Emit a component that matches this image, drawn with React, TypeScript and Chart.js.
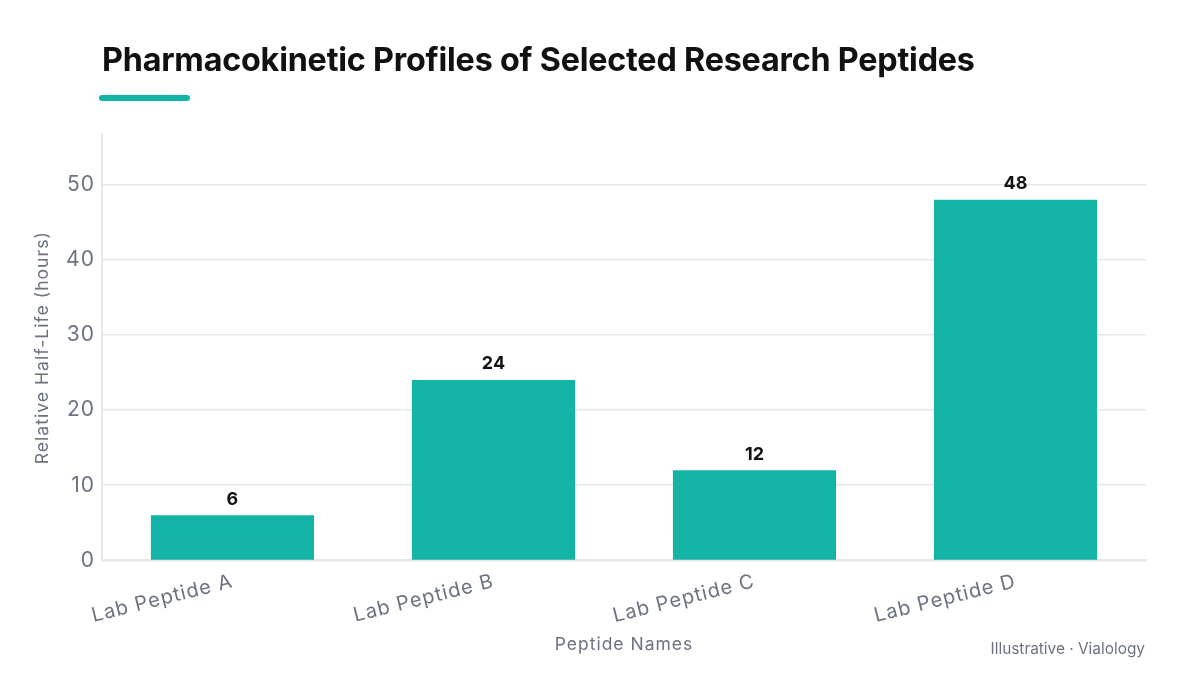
import React, { useEffect, useRef } from "react";
import { Chart, registerables } from "chart.js";

Chart.register(...registerables);

const categories = ["Lab Peptide A", "Lab Peptide B", "Lab Peptide C", "Lab Peptide D"];
const halfLifeHours = [6, 24, 12, 48];
const yMax = 56.6;
const yStep = 10;

const TEAL = "#13b3a5";
const GRAY = "#6b7280";
const FONT = "Inter, 'DejaVu Sans', sans-serif";

// Slightly open tracking for the axis text drawn on the canvas.
const wideText = {
  id: "wideText",
  beforeUpdate(chart: any) {
    chart.ctx.letterSpacing = "1px";
  },
};

const valueLabels = {
  id: "valueLabels",
  afterDatasetsDraw(chart: any) {
    const ctx = chart.ctx;
    const meta = chart.getDatasetMeta(0);
    ctx.save();
    ctx.letterSpacing = "0px";
    ctx.font = `700 18px ${FONT}`;
    ctx.fillStyle = "#111111";
    ctx.textAlign = "center";
    ctx.textBaseline = "bottom";
    meta.data.forEach((bar: any, i: number) => {
      ctx.fillText(String(chart.data.datasets[0].data[i]), bar.x, bar.y - 7);
    });
    ctx.restore();
  },
};

export default function App() {
  const ref = useRef<HTMLCanvasElement | null>(null);

  useEffect(() => {
    if (!ref.current) return;
    const chart = new Chart(ref.current, {
      type: "bar",
      data: {
        labels: categories,
        datasets: [
          {
            data: halfLifeHours,
            backgroundColor: TEAL,
            borderWidth: 0,
            barPercentage: 0.625,
            categoryPercentage: 1,
          },
        ],
      },
      options: {
        animation: false,
        responsive: false,
        maintainAspectRatio: false,
        layout: { padding: { top: 135, left: 28, right: 54, bottom: 20 } },
        plugins: {
          legend: { display: false },
          tooltip: { enabled: false },
        },
        scales: {
          x: {
            grid: { display: false, drawTicks: false },
            border: { color: "#e5e7eb", width: 2 },
            ticks: {
              color: GRAY,
              font: { family: FONT, size: 20, lineHeight: 1.0 },
              minRotation: 14,
              maxRotation: 14,
              padding: 11,
            },
            title: {
              display: true,
              text: "Peptide Names",
              color: GRAY,
              font: { family: FONT, size: 17.5 },
              padding: { top: -3, bottom: 0 },
            },
          },
          y: {
            min: 0,
            max: yMax,
            afterBuildTicks: (axis: any) => {
              axis.ticks = axis.ticks.filter((t: any) => t.value % yStep === 0);
            },
            ticks: {
              stepSize: yStep,
              color: GRAY,
              font: { family: FONT, size: 21 },
              padding: 7,
            },
            grid: { color: "#e5e7eb", lineWidth: 1.5, drawTicks: false },
            border: { color: "#e5e7eb", width: 2 },
            title: {
              display: true,
              text: "Relative Half-Life (hours)",
              color: GRAY,
              font: { family: FONT, size: 17.6 },
              padding: { bottom: 6 },
            },
          },
        },
      },
      plugins: [wideText, valueLabels],
    });
    return () => chart.destroy();
  }, []);

  return (
    <div style={{ position: "absolute", left: 0, top: 0, width: 1200, height: 675, background: "#fff", overflow: "hidden" }}>
      <canvas ref={ref} width={1200} height={675} style={{ position: "absolute", left: 0, top: 0 }} />
      <div
        style={{
          position: "absolute",
          left: 102,
          top: 40,
          fontFamily: FONT,
          fontWeight: 700,
          fontSize: 32.3,
          color: "#111111",
          whiteSpace: "nowrap",
          letterSpacing: -0.2,
        }}
      >
        Pharmacokinetic Profiles of Selected Research Peptides
      </div>
      <div
        style={{
          position: "absolute",
          left: 99,
          top: 95,
          width: 91,
          height: 6,
          borderRadius: 3,
          background: TEAL,
        }}
      />
      <div
        style={{
          position: "absolute",
          right: 55,
          top: 639,
          fontFamily: FONT,
          fontSize: 15.4,
          color: GRAY,
          whiteSpace: "nowrap",
        }}
      >
        Illustrative · Vialology
      </div>
    </div>
  );
}
